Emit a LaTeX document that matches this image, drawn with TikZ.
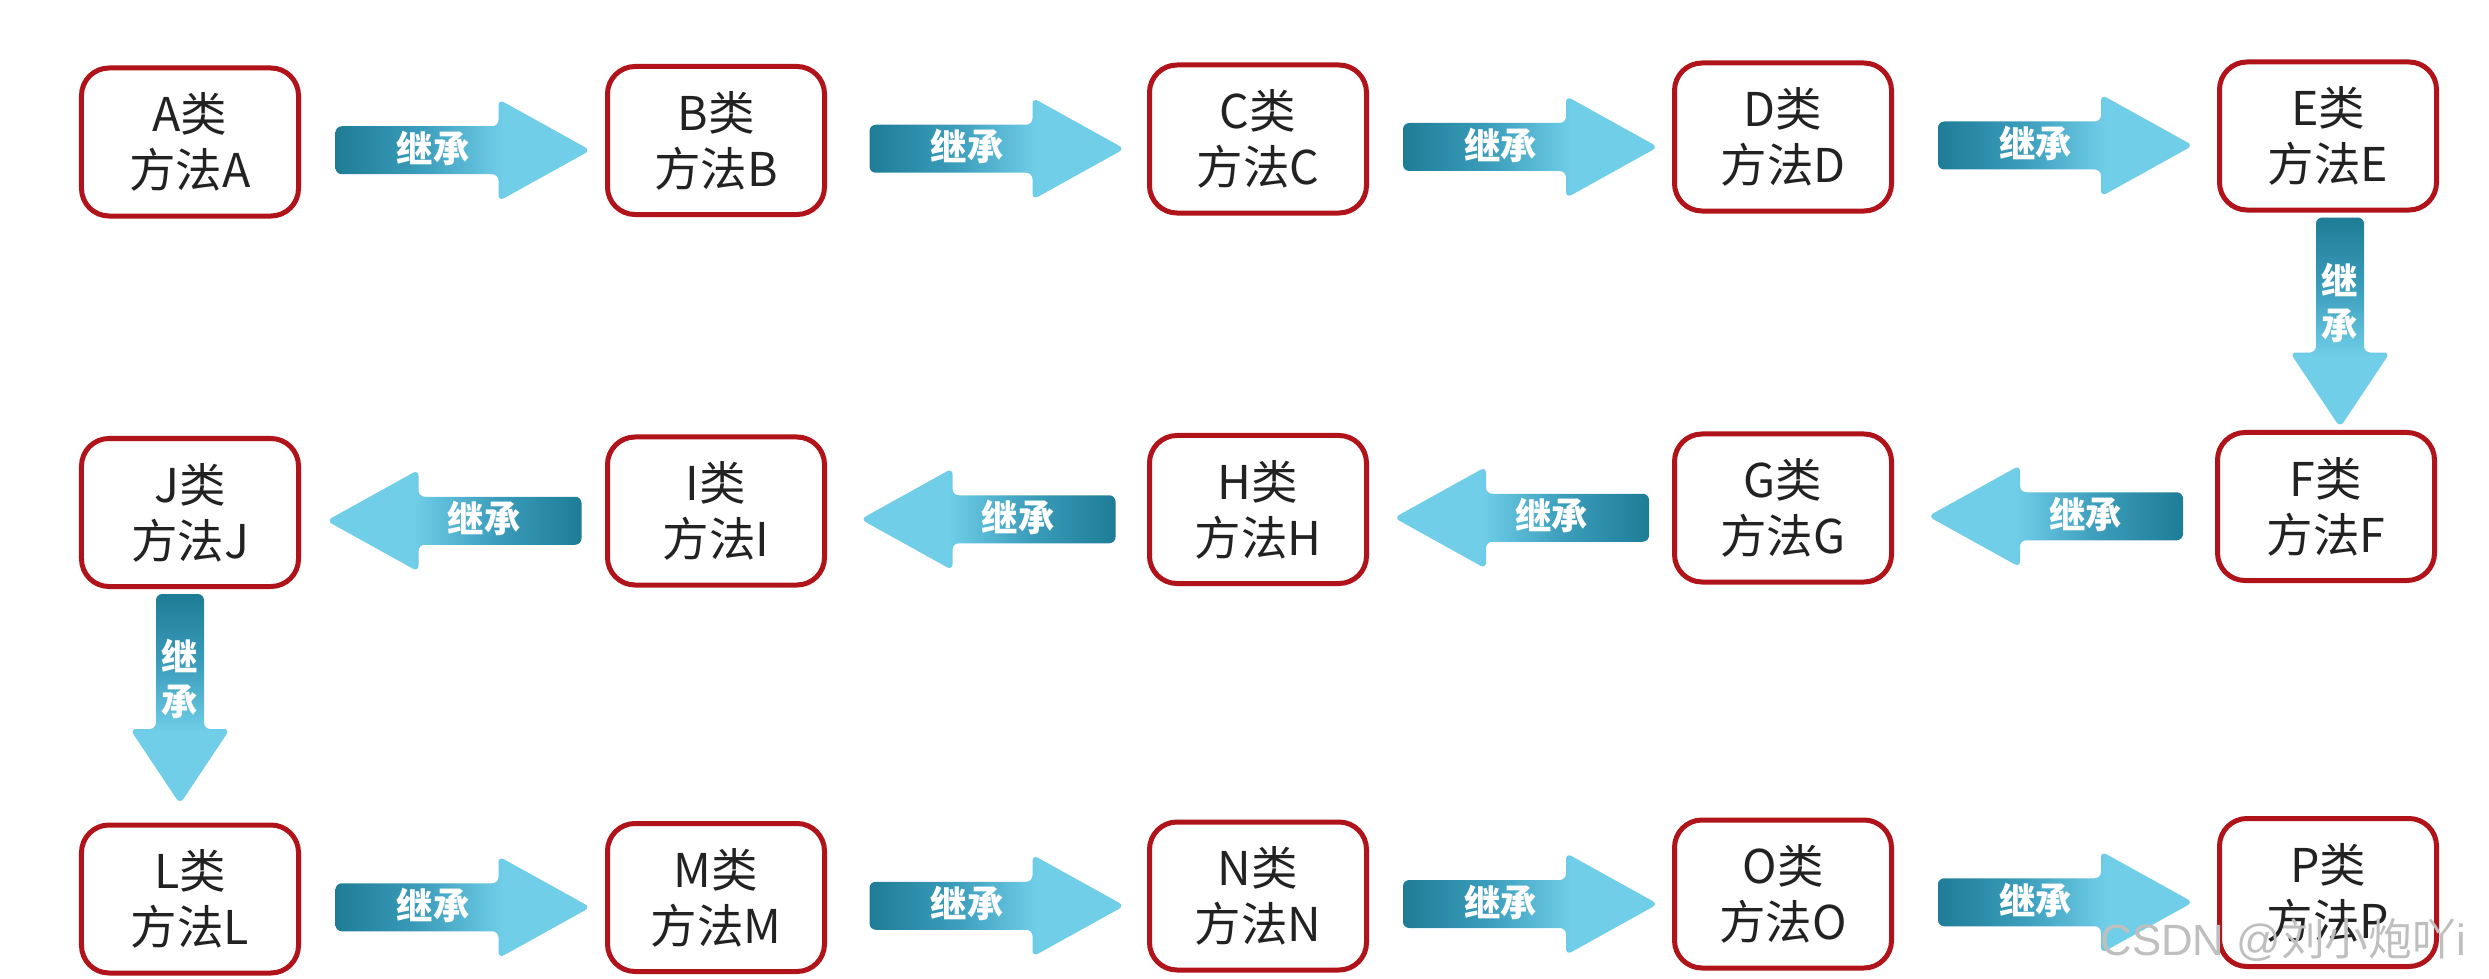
\documentclass[tikz,border=0pt]{standalone}
\usepackage{fontspec}
\setmainfont{Noto Sans CJK SC}
\newfontfamily\wmfont{Liberation Sans}
\usetikzlibrary{calc}
\definecolor{boxred}{RGB}{176,20,26}
\definecolor{txt}{RGB}{34,34,34}
\definecolor{ardk}{RGB}{30,124,150}
\definecolor{armd}{RGB}{60,158,188}
\definecolor{arlt}{RGB}{112,206,232}
\pgfdeclarehorizontalshading{arshade}{100bp}{color(0bp)=(ardk); color(25bp)=(ardk); color(42bp)=(armd); color(58bp)=(arlt); color(100bp)=(arlt)}
\tikzset{
  cls/.style={draw=boxred, line width=2pt, rounded corners=11pt, minimum width=86.8pt,
    minimum height=59.2pt, align=center, text=txt, fill=white,
    font=\fontsize{18.6}{22.4}\selectfont, inner sep=0pt},
  arrbody/.style={shading=arshade, rounded corners=2.5pt},
  arrlbl/.style={text=white, font=\fontsize{14.5}{18}\selectfont\bfseries, inner sep=0pt, align=center},
}
% right-pointing arrow from #1 to #2
\newcommand\arR[2]{%
  \coordinate (m#1#2) at ($(#1.east)!0.5!(#2.west)+(10,9)$);
  \shade[arrbody, shading angle=0] ($(m#1#2)+(-127.5,-24)$) -- ($(m#1#2)+(35.5,-24)$) -- ($(m#1#2)+(35.5,-51)$)
    -- ($(m#1#2)+(127.5,0)$) -- ($(m#1#2)+(35.5,51)$) -- ($(m#1#2)+(35.5,24)$) -- ($(m#1#2)+(-127.5,24)$) -- cycle;
  \node[arrlbl] (l#1#2) at ($(m#1#2)+(-30,-2)$) {继承};
}
% left-pointing arrow from #1 (right box) to #2 (left box)
\newcommand\arL[2]{%
  \coordinate (m#1#2) at ($(#2.east)!0.5!(#1.west)+(1,9)$);
  \shade[arrbody, shading angle=180] ($(m#1#2)+(127.5,-24)$) -- ($(m#1#2)+(-35.5,-24)$) -- ($(m#1#2)+(-35.5,-51)$)
    -- ($(m#1#2)+(-127.5,0)$) -- ($(m#1#2)+(-35.5,51)$) -- ($(m#1#2)+(-35.5,24)$) -- ($(m#1#2)+(127.5,24)$) -- cycle;
  \node[arrlbl] (l#1#2) at ($(m#1#2)+(30,-2)$) {继承};
}
% down-pointing arrow from #1 to #2, x offset #3
\newcommand\arD[3]{%
  \coordinate (m#1#2) at ($(#1.south)+(#3,110)$);
  \shade[arrbody, shading angle=-90] ($(m#1#2)+(-24,-105)$) -- ($(m#1#2)+(24,-105)$) -- ($(m#1#2)+(24,30)$)
    -- ($(m#1#2)+(50,30)$) -- ($(m#1#2)+(0,105)$) -- ($(m#1#2)+(-50,30)$) -- ($(m#1#2)+(-24,30)$) -- cycle;
  \node[arrlbl] (l#1#2) at ($(m#1#2)+(0,-20)$) {继\\承};
}
\begin{document}
\begin{tikzpicture}[x=0.4pt,y=-0.4pt]
\fill[white] (0,0) rectangle (2489,979);
\useasboundingbox (0,0) rectangle (2489,979);
% row 1
\node[cls] (A) at (190,142)    {A类\\方法A};
\node[cls] (B) at (716,140.5)  {B类\\方法B};
\node[cls] (C) at (1258,139)   {C类\\方法C};
\node[cls] (D) at (1783,137)   {D类\\方法D};
\node[cls] (E) at (2328,136)   {E类\\方法E};
% row 2
\node[cls] (J) at (190,512.5)  {J类\\方法J};
\node[cls] (I) at (716,511)    {I类\\方法I};
\node[cls] (H) at (1258,509.5) {H类\\方法H};
\node[cls] (G) at (1783,508)   {G类\\方法G};
\node[cls] (F) at (2326,506.5) {F类\\方法F};
% row 3
\node[cls] (L) at (190,899)    {L类\\方法L};
\node[cls] (M) at (716,897.5)  {M类\\方法M};
\node[cls] (N) at (1258,896)   {N类\\方法N};
\node[cls] (O) at (1783,894)   {O类\\方法O};
\node[cls] (P) at (2328,892.5) {P类\\方法P};
% arrows
\arR{A}{B}\arR{B}{C}\arR{C}{D}\arR{D}{E}
\arD{E}{F}{12}
\arL{F}{G}\arL{G}{H}\arL{H}{I}\arL{I}{J}
\arD{J}{L}{-10}
\arR{L}{M}\arR{M}{N}\arR{N}{O}\arR{O}{P}
% watermark
\node[anchor=base west, text=black!25, font=\fontsize{17.5}{20}\selectfont, inner sep=0pt] (wm) at (2100,955)
  {{\wmfont CSDN @}刘小炮吖{\wmfont i}};
\end{tikzpicture}
\end{document}
